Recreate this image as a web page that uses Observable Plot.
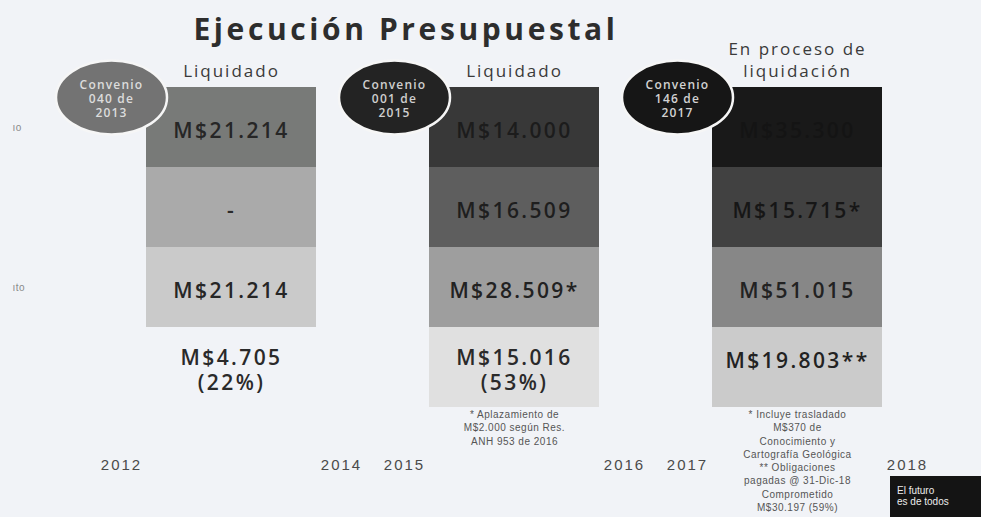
<!DOCTYPE html>
<html>
<head>
<meta charset="utf-8">
<script src="https://cdn.jsdelivr.net/npm/d3@7"></script>
<script src="https://cdn.jsdelivr.net/npm/@observablehq/plot@0.6"></script>
<style>
  html, body { margin: 0; padding: 0; background: #f1f3f7; }
  #wrap { position: relative; width: 981px; height: 517px; overflow: hidden; background: #f1f3f7; }
  #badge { position: absolute; left: 890px; top: 476px; width: 91px; height: 41px; background: #141414; color: #ececec;
           font: 10px "Liberation Sans", Arial, sans-serif; line-height: 11px; padding: 9px 0 0 7px; box-sizing: border-box; }
  g[font-size="30"] { letter-spacing: 3.6px; }
  g[font-size="21"] { letter-spacing: 2.4px; }
  g[font-size="17"] { letter-spacing: 2px; }
  g[font-size="12"] { letter-spacing: 1.2px; }
  g[font-size="15"] { letter-spacing: 2px; }
  g[font-size="10"] { letter-spacing: 0.5px; }
</style>
</head>
<body>
<div id="wrap"><div id="badge">El futuro<br>es de todos</div></div>
<script>
// ---- data ----
const columns = ["Convenio 040 de 2013", "Convenio 001 de 2015", "Convenio 146 de 2017"];
const convenioLabels = ["Convenio\n040 de\n2013", "Convenio\n001 de\n2015", "Convenio\n146 de\n2017"];
const statusLabels = ["Liquidado", "Liquidado", "En proceso de\nliquidación"];
const rowKeys = ["aporte1", "aporte2", "total", "ejecutado"];
const aporte1 = [21214, 14000, 35300];
const aporte2 = [null, 16509, 15715];
const total = [21214, 28509, 51015];
const ejecutado = [4705, 15016, 19803];
const ejecutadoPct = [22, 53, null];
const asterisks = {
  aporte1: ["", "", ""],
  aporte2: ["", "", "*"],
  total: ["", "*", ""],
  ejecutado: ["", "", "**"]
};
const yearsStart = ["2012", "2015", "2017"];
const yearsEnd = ["2014", "2016", "2018"];
const footnotes = [
  "",
  "* Aplazamiento de\nM$2.000 según Res.\nANH 953 de 2016",
  "* Incluye trasladado\nM$370 de\nConocimiento y\nCartografía Geológica\n** Obligaciones\npagadas @ 31-Dic-18\nComprometido\nM$30.197 (59%)"
];
const rowFragments = ["ıo", "", "ıto", ""];

// ---- styles ----
const cellFill = {
  aporte1: ["#787a78", "#383838", "#191919"],
  aporte2: ["#aaaaaa", "#5e5e5e", "#414141"],
  total: ["#cacaca", "#9e9e9e", "#878787"],
  ejecutado: [null, "#e0e0e0", "#cbcbcb"]
};
const cellInk = {
  aporte1: ["#262626", "#1c1c1c", "#141414"],
  aporte2: ["#2a2a2a", "#1e1e1e", "#161616"],
  total: ["#262626", "#222222", "#222222"],
  ejecutado: ["#2a2a2a", "#2a2a2a", "#222222"]
};
const badgeFill = ["#737373", "#232323", "#161616"];
const badgeInk = ["#dcdcdc", "#cfcfcf", "#d2d2d2"];

const valuesByRow = {aporte1, aporte2, total, ejecutado};
const fmt = d3.formatLocale({decimal: ",", thousands: ".", grouping: [3], currency: ["M$", ""]}).format("$,");

const cells = [];
columns.forEach((col, i) => rowKeys.forEach(row => {
  const v = valuesByRow[row][i];
  let label = v == null ? "-" : fmt(v) + asterisks[row][i];
  if (row === "ejecutado" && ejecutadoPct[i] != null) label += `\n(${ejecutadoPct[i]}%)`;
  cells.push({col, row, i, value: v, label, fill: cellFill[row][i], ink: cellInk[row][i]});
}));

const ellipse = {
  draw(ctx, size) {
    const r = Math.sqrt(size / Math.PI), a = r * 1.5, b = r, k = 0.5523;
    ctx.moveTo(a, 0);
    ctx.bezierCurveTo(a, b * k, a * k, b, 0, b);
    ctx.bezierCurveTo(-a * k, b, -a, b * k, -a, 0);
    ctx.bezierCurveTo(-a, -b * k, -a * k, -b, 0, -b);
    ctx.bezierCurveTo(a * k, -b, a, -b * k, a, 0);
    ctx.closePath();
  }
};

const sans = "'Open Sans', sans-serif";
const arial = "'Liberation Sans', Arial, sans-serif";

const chart = Plot.plot({
  width: 981,
  height: 517,
  margin: 0,
  style: {background: "transparent", fontFamily: sans},
  x: {type: "band", domain: columns, range: [145, 882], paddingInner: 0.4, paddingOuter: 0, axis: null},
  y: {type: "band", domain: rowKeys, range: [87, 407], padding: 0, axis: null},
  color: {type: "identity"},
  marks: [
    Plot.cell(cells.filter(d => d.fill), {x: "col", y: "row", fill: "fill", inset: 0}),
    Plot.text(cells.filter(d => !(d.row === "ejecutado" && d.i === 2)), {
      x: "col", y: "row", text: "label", fill: "ink", fontSize: 21, fontWeight: 600,
      fontFamily: sans, lineHeight: 1.2, lineAnchor: "middle", dy: 2
    }),
    Plot.text(cells.filter(d => d.row === "ejecutado" && d.i === 2), {
      x: "col", y: "row", text: "label", fill: "ink", fontSize: 21, fontWeight: 600,
      fontFamily: sans, lineAnchor: "middle", dy: -6
    }),
    Plot.dot(columns, {
      x: d => d, frameAnchor: "top", dy: 97, dx: -120, r: 37, symbol: ellipse,
      fill: (d, i) => badgeFill[i], stroke: "#f6f6f6", strokeWidth: 2.5
    }),
    Plot.text(columns, {
      x: d => d, frameAnchor: "top", dy: 98, dx: -120, text: (d, i) => convenioLabels[i],
      fill: (d, i) => badgeInk[i], fontSize: 12, fontWeight: 600, lineHeight: 1.18,
      lineAnchor: "middle", fontFamily: sans
    }),
    Plot.text(columns, {
      x: d => d, frameAnchor: "top", dy: 76, lineAnchor: "bottom", text: (d, i) => statusLabels[i],
      fontSize: 17, lineHeight: 1.25, fill: "#3a3a3a", fontFamily: sans
    }),
    Plot.text(["Ejecución Presupuestal"], {
      text: d => d, frameAnchor: "top", dy: 39, dx: -85, lineAnchor: "bottom",
      fontSize: 30, fontWeight: 700, fill: "#2d2d2d", fontFamily: sans
    }),
    Plot.text(columns, {
      x: d => d, frameAnchor: "top", dy: 465, dx: -110, text: (d, i) => yearsStart[i],
      lineAnchor: "middle", fontSize: 15, fill: "#4a4a4a", fontFamily: arial
    }),
    Plot.text(columns, {
      x: d => d, frameAnchor: "top", dy: 465, dx: 110, text: (d, i) => yearsEnd[i],
      lineAnchor: "middle", fontSize: 15, fill: "#4a4a4a", fontFamily: arial
    }),
    Plot.text(columns, {
      x: d => d, frameAnchor: "top", dy: 408, lineAnchor: "top", text: (d, i) => footnotes[i],
      fontSize: 10, lineHeight: 1.33, fill: "#555555", fontFamily: arial
    }),
    Plot.text(rowKeys, {
      y: d => d, frameAnchor: "left", dx: 12, textAnchor: "start", lineAnchor: "middle",
      text: (d, i) => rowFragments[i], fontSize: 10, fill: "#8a8a8a", fontFamily: arial
    })
  ]
});

document.getElementById("wrap").prepend(chart);
</script>
</body>
</html>
